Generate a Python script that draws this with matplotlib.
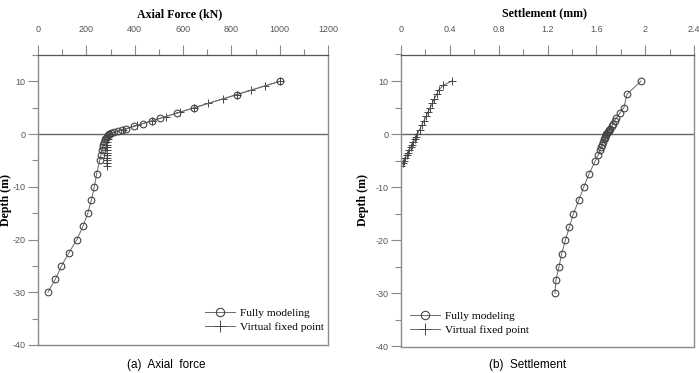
import matplotlib
matplotlib.use("Agg")
import matplotlib.pyplot as plt
from matplotlib.ticker import MultipleLocator
from matplotlib.lines import Line2D

plt.rcParams["axes.unicode_minus"] = False

# ---------------------------------------------------------------------------
# data (depth in m)
full_depth = [10, 7.5, 5, 4, 3, 2.5, 2, 1.5, 1, 0.8, 0.6, 0.4, 0.2, 0,
              -0.25, -0.5, -0.75, -1, -1.5, -2, -2.5, -3, -4, -5,
              -7.5, -10, -12.5, -15, -17.5, -20, -22.5, -25, -27.5, -30]
full_force = [1000, 823, 647, 577, 505, 470, 436, 399, 363, 349, 330, 315, 303, 293,
              288, 284, 280, 277, 274, 271, 268, 265, 260, 255,
              243, 233, 221, 206, 186, 161, 128, 97, 72, 41]
full_settle = [1.966, 1.851, 1.826, 1.794, 1.762, 1.750, 1.738, 1.725, 1.712, 1.706,
               1.700, 1.694, 1.688, 1.682, 1.677, 1.672, 1.667, 1.662, 1.653, 1.645,
               1.636, 1.628, 1.614, 1.592, 1.540, 1.496, 1.455, 1.412, 1.379, 1.346,
               1.316, 1.294, 1.269, 1.261]

virt_depth = [10, 9.17, 8.33, 7.5, 6.67, 5.83, 5, 4.17, 3.33, 2.5, 1.67, 0.83, 0,
              -0.5, -1, -1.5, -2, -2.5, -3, -3.5, -4, -4.5, -5, -5.5, -6]
virt_force = [1000, 941, 882, 823, 764, 705, 647, 588, 529, 470, 411, 352, 292,
              289, 288, 287, 287, 286, 286, 286, 286, 285, 285, 285, 285]
virt_settle = [0.415, 0.345, 0.310, 0.292, 0.274, 0.257, 0.240, 0.222, 0.204, 0.187,
               0.169, 0.152, 0.134, 0.123, 0.112, 0.101, 0.090, 0.079, 0.068, 0.057,
               0.046, 0.035, 0.024, 0.013, 0.002]

SERIF = ["Liberation Serif", "DejaVu Serif"]
SANS = ["Liberation Sans", "DejaVu Sans"]
LINE_C = "#6a6a6a"
MARK_C = "#444444"
FRAME_C = "#8a8a8a"
TICK_C = "#555555"

W, H = 699, 373


def fx(px):
    return px / W


def fy(py):
    return 1 - py / H


def style_axes(ax, xmax, xmajor, xminor, xfmt):
    ax.set_xlim(0, xmax)
    ax.set_ylim(-40, 15)
    ax.xaxis.tick_top()
    ax.xaxis.set_minor_locator(MultipleLocator(xminor))
    ax.yaxis.set_minor_locator(MultipleLocator(5))
    n = int(round(xmax / xmajor)) + 1
    ax.set_xticks([v * xmajor for v in range(n)])
    ax.set_xticklabels([xfmt(v * xmajor) for v in range(n)])
    ax.set_yticks([10, 0, -10, -20, -30, -40])
    ax.tick_params(which="major", direction="out", length=7, width=0.8,
                   color=FRAME_C, labelsize=6.5, labelcolor=TICK_C, pad=2)
    ax.tick_params(which="minor", direction="out", length=4, width=0.8, color=FRAME_C)
    ax.tick_params(axis="x", which="major", pad=8)
    for lab in ax.get_xticklabels() + ax.get_yticklabels():
        lab.set_family(SANS)
    for side in ["left", "right", "bottom"]:
        ax.spines[side].set_color(FRAME_C)
        ax.spines[side].set_linewidth(1.0)
    ax.spines["top"].set_color("#555555")
    ax.spines["top"].set_linewidth(0.9)
    ax.axhline(0, color="#666666", lw=1.0, zorder=1)


def plot_series(ax, xs_full, xs_virt):
    ax.plot(xs_virt, virt_depth, color=LINE_C, lw=0.7, marker="+", ms=5.5,
            mec=MARK_C, mew=0.7, zorder=2)
    ax.plot(xs_full, full_depth, color=LINE_C, lw=0.7, marker="o", ms=4.8,
            mfc="none", mec=MARK_C, mew=0.8, zorder=3)


def legend(fig, x0, y0):
    handles = [
        Line2D([], [], color=LINE_C, lw=0.7, marker="o", ms=6, mfc="none",
               mec=MARK_C, mew=0.8),
        Line2D([], [], color=LINE_C, lw=0.7, marker="+", ms=8, mec=MARK_C, mew=0.7),
    ]
    fig.legend(handles, ["Fully modeling", "Virtual fixed point"],
               loc="upper left", bbox_to_anchor=(fx(x0), fy(y0)), frameon=False,
               prop={"family": SERIF, "size": 8.2}, handlelength=2.6,
               handletextpad=0.5, labelspacing=0.35, borderpad=0, borderaxespad=0)


fig = plt.figure(figsize=(W / 100, H / 100), dpi=100)

# (a) axial force
ax1 = fig.add_axes([fx(38), fy(345), fx(328 - 38), (345 - 55) / H])
style_axes(ax1, 1200, 200, 100, lambda v: f"{v:.0f}")
plot_series(ax1, full_force, virt_force)
fig.text(fx(180), fy(14), "Axial Force (kN)", ha="center", va="center",
         family=SERIF, fontweight="bold", fontsize=8.6)
fig.text(fx(6), fy(200), "Depth (m)", ha="center", va="center", rotation=90,
         family=SERIF, fontweight="bold", fontsize=8.6)
fig.text(fx(166), fy(365), "(a)  Axial  force", ha="center", va="center",
         family=SANS, fontsize=8.5)
legend(fig, 205, 308)

# (b) settlement
ax2 = fig.add_axes([fx(401), fy(346.5), fx(694 - 401), (346.5 - 54.5) / H])
style_axes(ax2, 2.4, 0.4, 0.2, lambda v: f"{v:g}")
plot_series(ax2, full_settle, virt_settle)
fig.text(fx(545), fy(13), "Settlement (mm)", ha="center", va="center",
         family=SERIF, fontweight="bold", fontsize=8.6)
fig.text(fx(363), fy(200), "Depth (m)", ha="center", va="center", rotation=90,
         family=SERIF, fontweight="bold", fontsize=8.6)
fig.text(fx(528), fy(365), "(b)  Settlement", ha="center", va="center",
         family=SANS, fontsize=8.5)
legend(fig, 410, 311)

fig.savefig("out.png", dpi=100)
